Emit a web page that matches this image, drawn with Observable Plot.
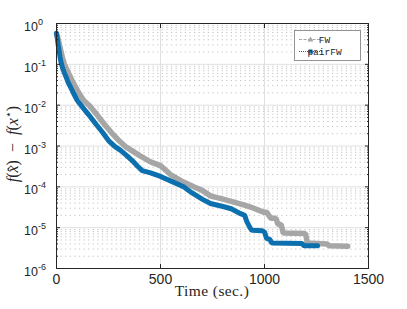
<!DOCTYPE html>
<html><head><meta charset="utf-8">
<script src="https://cdn.jsdelivr.net/npm/d3@7"></script>
<script src="https://cdn.jsdelivr.net/npm/@observablehq/plot@0.6"></script>
<style>body{margin:0;background:#fff} #chart svg{display:block}</style>
</head><body><div id="chart"></div>
<script>
const seriesNames = ["FW", "pairFW"];
const fwTime = [0, 5, 10, 16, 22, 30, 38, 50, 62, 76, 91, 110, 131, 160, 195, 228, 265, 300, 330, 364, 400, 452, 500, 548, 600, 660, 700, 740, 800, 840, 900, 933, 995, 1010, 1030, 1055, 1065, 1080, 1090, 1197, 1206, 1300, 1310, 1400];
const fwGap = [0.55, 0.47, 0.37, 0.28, 0.20, 0.14, 0.10, 0.074, 0.055, 0.039, 0.028, 0.019, 0.013, 0.0095, 0.0058, 0.0035, 0.0021, 0.00136, 0.00098, 0.00076, 0.00058, 0.00041, 0.00033, 0.00020, 0.00014, 0.000100, 0.000082, 0.000060, 0.000050, 0.000044, 0.000036, 0.000032, 0.000024, 0.000024, 0.000017, 0.000017, 0.000012, 0.000012, 0.0000074, 0.0000072, 0.0000042, 0.0000040, 0.0000036, 0.0000035];
const pairTime = [0, 4, 8, 12, 17, 22, 30, 38, 46, 56, 67, 83, 100, 123, 155, 188, 220, 250, 280, 308, 335, 364, 390, 412, 452, 500, 548, 611, 650, 700, 740, 800, 840, 885, 905, 915, 930, 940, 990, 1000, 1010, 1025, 1035, 1180, 1190, 1255];
const pairGap = [0.58, 0.43, 0.30, 0.22, 0.15, 0.11, 0.079, 0.062, 0.049, 0.036, 0.028, 0.019, 0.013, 0.0092, 0.0058, 0.0035, 0.0022, 0.00136, 0.00098, 0.00078, 0.00060, 0.00044, 0.00032, 0.00025, 0.00022, 0.00018, 0.00014, 0.000100, 0.000072, 0.000050, 0.000039, 0.000033, 0.000029, 0.000022, 0.000020, 0.000014, 0.000010, 0.0000086, 0.0000084, 0.0000078, 0.0000054, 0.0000052, 0.0000042, 0.0000041, 0.0000036, 0.0000036];
const xTicks = [0, 500, 1000, 1500];
const yExponents = [-6, -5, -4, -3, -2, -1, 0];
const xLabel = "Time (sec.)";

const yTicks = yExponents.map(e => Math.pow(10, e));
const yMinor = [];
for (const e of yExponents.slice(0, -1)) for (let k = 2; k <= 9; k++) yMinor.push(k * Math.pow(10, e));

const fw = fwTime.map((t, i) => ({t, v: fwGap[i]}));
const pair = pairTime.map((t, i) => ({t, v: pairGap[i]}));

const W = 407, H = 309, ML = 56, MR = 39, MT = 23, MB = 41;
const gray = "#a6a6a6", blue = "#0c6fae";
const noText = () => "";

const chart = Plot.plot({
  width: W, height: H,
  marginLeft: ML, marginRight: MR, marginTop: MT, marginBottom: MB,
  style: {fontFamily: "Liberation Sans, Arial, sans-serif", background: "#fff", overflow: "visible"},
  x: {domain: [0, 1500]},
  y: {type: "log", domain: [1e-6, 1]},
  marks: [
    Plot.gridY(yMinor, {stroke: "#b4b4b4", strokeOpacity: 1, strokeWidth: 0.8, strokeDasharray: "1.2,3.4"}),
    Plot.gridY(yTicks, {stroke: "#e0e0e0", strokeOpacity: 1}),
    Plot.gridX(xTicks, {stroke: "#e0e0e0", strokeOpacity: 1}),
    Plot.line(fw, {x: "t", y: "v", stroke: gray, strokeWidth: 5.5, strokeLinejoin: "miter"}),
    Plot.line(pair, {x: "t", y: "v", stroke: blue, strokeWidth: 5, strokeLinejoin: "miter"}),
    Plot.frame({stroke: "#262626", strokeWidth: 1}),
    Plot.axisX(xTicks, {anchor: "bottom", tickSize: -4, tickPadding: 10, fontSize: 14, fill: "#262626", stroke: "#262626", tickFormat: d => String(d), label: null}),
    Plot.axisX(xTicks, {anchor: "top", tickSize: -4, tickFormat: noText, label: null, stroke: "#262626"}),
    Plot.axisY(yTicks, {anchor: "left", tickSize: -4, tickPadding: 10, fontSize: 12.5, fill: "#262626", stroke: "#262626", tickFormat: d => "10^" + Math.round(Math.log10(d)), label: null}),
    Plot.axisY(yTicks, {anchor: "right", tickSize: -4, tickFormat: noText, label: null, stroke: "#262626"}),
    Plot.axisY(yMinor, {anchor: "left", tickSize: -2, tickFormat: noText, label: null, stroke: "#262626"}),
    Plot.axisY(yMinor, {anchor: "right", tickSize: -2, tickFormat: noText, label: null, stroke: "#262626"})
  ]
});
document.getElementById("chart").appendChild(chart);

const svg = d3.select(chart);
svg.selectAll("text").filter(function() { return this.textContent === "" && !this.children.length; }).remove();
svg.selectAll('g[aria-label="y-axis tick label"]').each(function() {
  const g = d3.select(this);
  const texts = g.selectAll("text").filter(function() { return this.textContent.includes("^"); });
  if (texts.empty()) return;
  g.attr("transform", null).attr("text-anchor", "start");
  texts.each(function() {
    const t = d3.select(this);
    const txt = t.text();
    const m = /translate\(([-\d.]+),([-\d.]+)\)/.exec(t.attr("transform") || "");
    const ty = m ? +m[2] : 0;
    const exp = txt.split("^")[1];
    t.text(null).attr("transform", null).attr("dy", null).attr("x", 24).attr("y", ty + 8);
    t.append("tspan").text("10");
    t.append("tspan").attr("dy", -6).attr("font-size", 9).text(exp);
  });
});

// axis titles
svg.append("text").attr("x", 212).attr("y", 296).attr("text-anchor", "middle")
  .attr("font-family", "Liberation Serif, serif").attr("font-size", 15.5).attr("letter-spacing", 0.4)
  .attr("fill", "#262626").text(xLabel);

const yl = svg.append("text").attr("transform", `translate(18,144) rotate(-90)`)
  .attr("text-anchor", "middle").attr("font-family", "Liberation Serif, serif").attr("font-size", 16).attr("fill", "#262626");
yl.append("tspan").attr("font-style", "italic").text("f");
yl.append("tspan").text("(");
yl.append("tspan").attr("font-style", "italic").text("x");
yl.append("tspan").attr("dx", -6.6).attr("dy", 1).text("\u02C6");
yl.append("tspan").attr("dx", 1.2).attr("dy", -1).text(")\u2002\u2212\u2002");
yl.append("tspan").attr("font-style", "italic").text("f");
yl.append("tspan").text("(");
yl.append("tspan").attr("font-style", "italic").text("x");
yl.append("tspan").attr("dy", -6).attr("font-size", 11).text("\u22C6");
yl.append("tspan").attr("dy", 6).text(")");

// legend box
const lg = svg.append("g");
lg.append("rect").attr("x", 294.5).attr("y", 30.5).attr("width", 66).attr("height", 30)
  .attr("fill", "#fff").attr("stroke", "#7a7a7a").attr("stroke-width", 0.8);
const rows = [{name: seriesNames[0], color: gray, dash: "3,1.5", y: 39.5, shape: "tri"},
              {name: seriesNames[1], color: blue, dash: "1,1", y: 51.5, shape: "sq"}];
for (const r of rows) {
  lg.append("line").attr("x1", 299).attr("x2", 322).attr("y1", r.y).attr("y2", r.y)
    .attr("stroke", r.color).attr("stroke-width", 1.2).attr("stroke-dasharray", r.dash);
  if (r.shape === "tri") lg.append("path").attr("d", `M310.5,${r.y - 3}L313.5,${r.y + 2}L307.5,${r.y + 2}Z`).attr("fill", r.color);
  else lg.append("rect").attr("x", 308.5).attr("y", r.y - 2).attr("width", 4).attr("height", 4).attr("fill", r.color);
  lg.append("text").attr("x", 324.5).attr("y", r.y + 3.3).attr("font-family", "Liberation Mono, DejaVu Sans Mono, monospace")
    .attr("font-size", 9.5).attr("fill", "#262626").text(r.name);
}
</script>
</body></html>
